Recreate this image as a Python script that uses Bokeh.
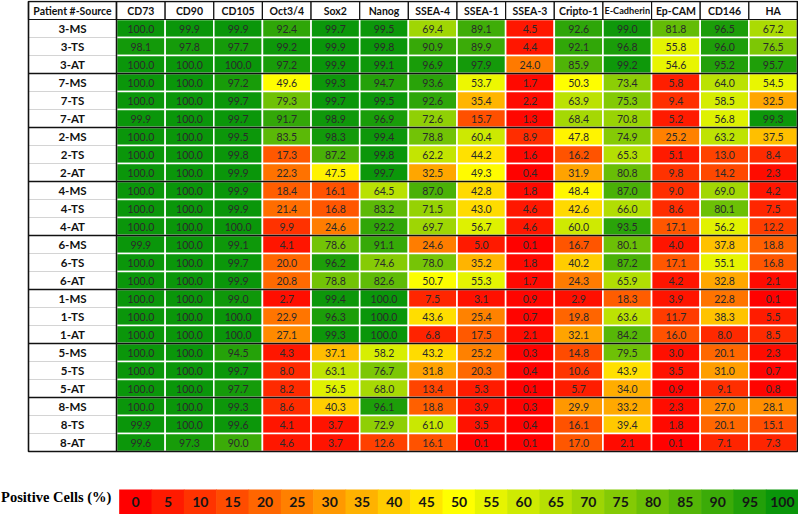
from bokeh.plotting import figure
from bokeh.models import Range1d, ColumnDataSource
from bokeh.layouts import column
from bokeh.embed import file_html
from bokeh.resources import INLINE
from bokeh.core.properties import value

# ---------------- data ----------------
samples = ["3-MS", "3-TS", "3-AT", "7-MS", "7-TS", "7-AT", "2-MS", "2-TS", "2-AT",
           "4-MS", "4-TS", "4-AT", "6-MS", "6-TS", "6-AT", "1-MS", "1-TS", "1-AT",
           "5-MS", "5-TS", "5-AT", "8-MS", "8-TS", "8-AT"]
markers = ["CD73", "CD90", "CD105", "Oct3/4", "Sox2", "Nanog", "SSEA-4", "SSEA-1",
           "SSEA-3", "Cripto-1", "E-Cadherin", "Ep-CAM", "CD146", "HA"]

cd73 = [100.0, 98.1, 100.0, 100.0, 100.0, 99.9, 100.0, 100.0, 100.0, 100.0, 100.0, 100.0,
        99.9, 100.0, 100.0, 100.0, 100.0, 100.0, 100.0, 100.0, 100.0, 100.0, 99.9, 99.6]
cd90 = [99.9, 97.8, 100.0, 100.0, 100.0, 100.0, 100.0, 100.0, 100.0, 100.0, 100.0, 100.0,
        100.0, 100.0, 100.0, 100.0, 100.0, 100.0, 100.0, 100.0, 100.0, 100.0, 100.0, 97.3]
cd105 = [99.9, 97.7, 100.0, 97.2, 99.7, 99.7, 99.5, 99.8, 99.9, 99.9, 99.9, 100.0,
         99.1, 99.7, 99.9, 99.0, 100.0, 100.0, 94.5, 99.7, 97.7, 99.3, 99.6, 90.0]
oct34 = [92.4, 99.2, 97.2, 49.6, 79.3, 91.7, 83.5, 17.3, 22.3, 18.4, 21.4, 9.9,
         4.1, 20.0, 20.8, 2.7, 22.9, 27.1, 4.3, 8.0, 8.2, 8.6, 4.1, 4.6]
sox2 = [99.7, 99.9, 99.9, 99.3, 99.7, 98.9, 98.3, 87.2, 47.5, 16.1, 16.8, 24.6,
        78.6, 96.2, 78.8, 99.4, 96.3, 99.3, 37.1, 63.1, 56.5, 40.3, 3.7, 3.7]
nanog = [99.5, 99.8, 99.1, 94.7, 99.5, 96.9, 99.4, 99.8, 99.7, 64.5, 83.2, 92.2,
         91.1, 74.6, 82.6, 100.0, 100.0, 100.0, 58.2, 76.7, 68.0, 96.1, 72.9, 12.6]
ssea4 = [69.4, 90.9, 96.9, 93.6, 92.6, 72.6, 78.8, 62.2, 32.5, 87.0, 71.5, 69.7,
         24.6, 78.0, 50.7, 7.5, 43.6, 6.8, 43.2, 31.8, 13.4, 18.8, 61.0, 16.1]
ssea1 = [89.1, 89.9, 97.9, 53.7, 35.4, 15.7, 60.4, 44.2, 49.3, 42.8, 43.0, 56.7,
         5.0, 35.2, 55.3, 3.1, 25.4, 17.5, 25.2, 20.3, 5.3, 3.9, 3.5, 0.1]
ssea3 = [4.5, 4.4, 24.0, 1.7, 2.2, 1.3, 8.9, 1.6, 0.4, 1.8, 4.6, 4.6,
         0.1, 1.8, 1.7, 0.9, 0.7, 2.1, 0.3, 0.4, 0.1, 0.3, 0.4, 0.1]
cripto1 = [92.6, 92.1, 85.9, 50.3, 63.9, 68.4, 47.8, 16.2, 31.9, 48.4, 42.6, 60.0,
           16.7, 40.2, 24.3, 2.9, 19.8, 32.1, 14.8, 10.6, 5.7, 29.9, 16.1, 17.0]
ecadherin = [99.0, 96.8, 99.2, 73.4, 75.3, 70.8, 74.9, 65.3, 80.8, 87.0, 66.0, 93.5,
             80.1, 87.2, 65.9, 18.3, 63.6, 84.2, 79.5, 43.9, 34.0, 33.2, 39.4, 2.1]
epcam = [81.8, 55.8, 54.6, 5.8, 9.4, 5.2, 25.2, 5.1, 9.8, 9.0, 8.6, 17.1,
         4.0, 17.1, 4.2, 3.9, 11.7, 16.0, 3.0, 3.5, 0.9, 2.3, 1.8, 0.1]
cd146 = [96.5, 96.0, 95.2, 64.0, 58.5, 56.8, 63.2, 13.0, 14.2, 69.0, 80.1, 56.2,
         37.8, 55.1, 32.8, 22.8, 38.3, 8.0, 20.1, 31.0, 9.1, 27.0, 20.1, 7.1]
ha = [67.2, 76.5, 95.7, 54.5, 32.5, 99.3, 37.5, 8.4, 2.3, 4.2, 7.5, 12.2,
      18.8, 16.8, 2.1, 0.1, 5.5, 8.5, 2.3, 0.7, 0.8, 28.1, 15.1, 7.3]

columns_data = [cd73, cd90, cd105, oct34, sox2, nanog, ssea4, ssea1, ssea3,
                cripto1, ecadherin, epcam, cd146, ha]

legend_ticks = [0, 5, 10, 15, 20, 25, 30, 35, 40, 45, 50, 55, 60, 65, 70, 75, 80, 85, 90, 95, 100]
legend_title = "Positive Cells (%)"
header_label = "Patient #-Source"

# ---------------- colour scale ----------------
GREEN = (10, 150, 10)


def heat(v):
    if v <= 50:
        t = v / 50.0
        r, g, b = 255, 255 * t, 0
    else:
        t = (v - 50) / 50.0
        r = 255 + (GREEN[0] - 255) * t
        g = 255 + (GREEN[1] - 255) * t
        b = 0 + GREEN[2] * t
    return "#%02x%02x%02x" % (int(round(r)), int(round(g)), int(round(b)))


# ---------------- table figure ----------------
W = 798
CW = (797 - 116) / 14.0     # px per data column
LABW = 88 / CW              # label column width in column units
RH = 18.0                   # px per row
HA_H = 454

x0 = -116 / CW
y0 = -1 - 1.0 / RH
pA = figure(width=W, height=HA_H, output_backend="svg", toolbar_location=None,
            x_range=Range1d(x0, x0 + W / CW), y_range=Range1d(y0 + HA_H / RH, y0),
            min_border=0, outline_line_color=None, background_fill_color="white",
            border_fill_color="white")
pA.axis.visible = False
pA.grid.visible = False

nrow = len(samples)
ncol = len(markers)

xs, ys, cols, txt = [], [], [], []
for j, arr in enumerate(columns_data):
    for i, v in enumerate(arr):
        xs.append(j + 0.5)
        ys.append(i + 0.5)
        cols.append(heat(v))
        txt.append("%.1f" % v)
src = ColumnDataSource(dict(x=xs, y=ys, c=cols, t=txt))
pA.rect(x="x", y="y", width=1, height=1, fill_color="c", line_color="white",
        line_width=1.6, source=src)
pA.text(x="x", y="y", text="t", text_align="center", text_baseline="middle",
        text_font=value("Lato"), text_font_size="10.5px", text_color="#2a2a2a", source=src)

# row labels
lab_src = ColumnDataSource(dict(x=[-LABW / 2] * nrow, y=[i + 0.5 for i in range(nrow)], t=samples))
pA.rect(x="x", y="y", width=LABW, height=1, fill_color="white", line_color="#d4d4d4",
        line_width=1, source=lab_src)
pA.text(x="x", y="y", text="t", text_align="center", text_baseline="middle",
        text_font=value("Lato"), text_font_style="bold", text_font_size="11.5px",
        text_color="#111111", source=lab_src)

# header
hx = [-LABW / 2] + [j + 0.5 for j in range(ncol)]
hw = [LABW] + [1] * ncol
ht = [header_label] + markers
hs = ["10.5px"] + [("9.2px" if len(m) > 8 else "10.5px") for m in markers]
hdr_src = ColumnDataSource(dict(x=hx, y=[-0.5] * len(hx), w=hw, t=ht, s=hs))
pA.rect(x="x", y="y", width="w", height=1, fill_color="white", line_color="#111111",
        line_width=1.2, source=hdr_src)
pA.text(x="x", y="y", text="t", text_align="center", text_baseline="middle",
        text_font=value("Lato"), text_font_style="bold", text_font_size="s",
        text_color="#111111", source=hdr_src)

# group separators (every 3 rows)
gy = [k for k in range(3, nrow, 3)]
pA.segment(x0=[-LABW] * len(gy), x1=[ncol] * len(gy), y0=gy, y1=gy,
           line_color="#111111", line_width=1.5)
# vertical line between label column and data
pA.segment(x0=[0], x1=[0], y0=[-1], y1=[nrow], line_color="#111111", line_width=1.5)
# outer border
pA.rect(x=[(ncol - LABW) / 2], y=[(nrow - 1) / 2], width=[ncol + LABW], height=[nrow + 1],
        fill_color=None, line_color="#111111", line_width=1.6)

# ---------------- legend figure ----------------
LB_H = 60
LCW = (798 - 119) / 21.0
lstart = -119 / LCW
pB = figure(width=W, height=LB_H, output_backend="svg", toolbar_location=None,
            x_range=Range1d(lstart, lstart + W / LCW), y_range=Range1d(0, LB_H / 25.0),
            min_border=0, outline_line_color=None, background_fill_color="white",
            border_fill_color="white")
pB.axis.visible = False
pB.grid.visible = False

lsrc = ColumnDataSource(dict(x=[k + 0.5 for k in range(len(legend_ticks))],
                             y=[0.5] * len(legend_ticks),
                             c=[heat(v) for v in legend_ticks],
                             t=[str(v) for v in legend_ticks]))
pB.rect(x="x", y="y", width=1.02, height=1, fill_color="c", line_color=None, source=lsrc)
pB.text(x="x", y="y", text="t", text_align="center", text_baseline="middle",
        text_font=value("Lato"), text_font_style="bold", text_font_size="14px",
        text_color="#151515", source=lsrc)
pB.text(x=[-0.25], y=[0.7], text=[legend_title], text_align="right", text_baseline="middle",
        text_font=value("Liberation Serif"), text_font_style="bold", text_font_size="14.5px",
        text_color="#000000")

layout = column(pA, pB, spacing=0)
open("out.html", "w").write(file_html(layout, INLINE))
